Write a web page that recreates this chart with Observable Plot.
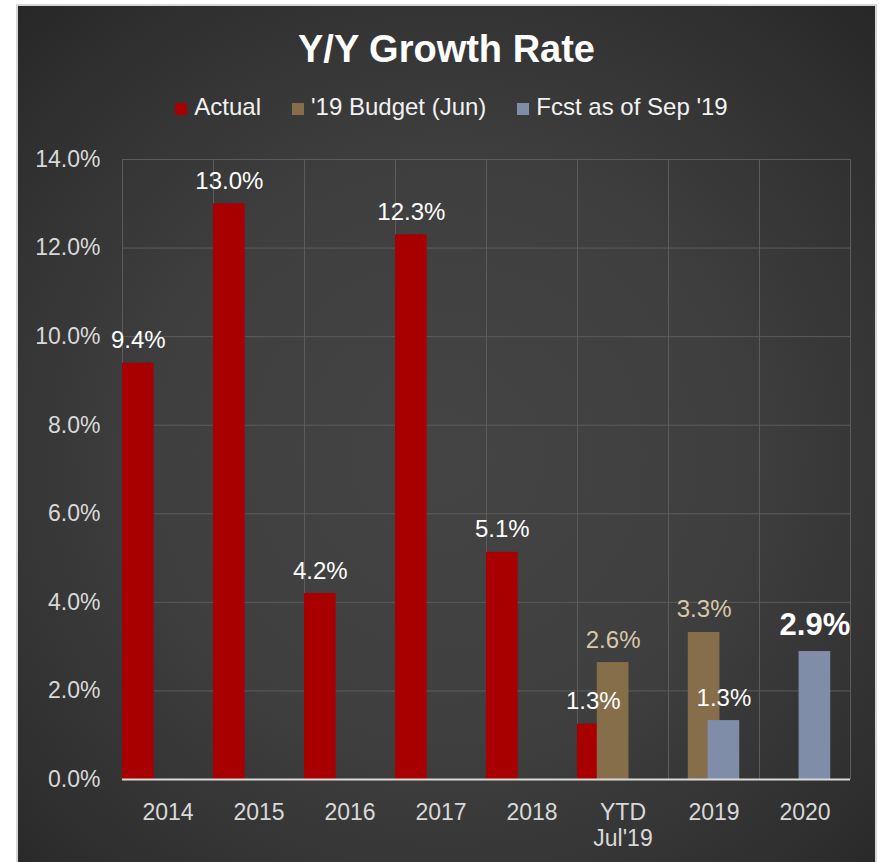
<!DOCTYPE html>
<html><head><meta charset="utf-8">
<script src="https://cdn.jsdelivr.net/npm/d3@7"></script>
<script src="https://cdn.jsdelivr.net/npm/@observablehq/plot@0.6"></script>
<style>
html,body{margin:0;padding:0;background:#fff;overflow:hidden;width:879px;height:862px}
#box{position:absolute;left:16px;top:4px;width:857px;height:900px;border:2px solid #d6d6d6;border-bottom:none;
background:radial-gradient(ellipse 75% 70% at 50% 50%, #444444 0%, #3f3f3f 45%, #303030 80%, #262626 100%);
font-family:"Liberation Sans",Arial,sans-serif;}
#title{position:absolute;left:0;width:857px;top:24px;text-align:center;font-size:38px;line-height:38px;font-weight:bold;color:#ffffff}
#legend{position:absolute;left:5px;width:857px;top:89px;display:flex;justify-content:center;gap:31px;font-size:24px;line-height:24px;color:#f2f2f2;white-space:nowrap}
.sw{display:inline-block;width:12px;height:12px;margin-right:7px;vertical-align:baseline}
#chart{position:absolute;left:0;top:128px}
</style></head>
<body>
<div id="box">
  <div id="title">Y/Y Growth Rate</div>
  <div id="legend"></div>
  <div id="chart"></div>
</div>
<script>
// ---- data ----
const categories = ["2014", "2015", "2016", "2017", "2018", "YTD\nJul'19", "2019", "2020"];
const seriesNames = ["Actual", "'19 Budget (Jun)", "Fcst as of Sep '19"];
const actual = [9.4, 13.0, 4.2, 12.3, 5.13, 1.25, null, null];
const budget = [null, null, null, null, null, 2.64, 3.32, null];
const fcst   = [null, null, null, null, null, null, 1.33, 2.89];
const yTicks = [0, 2, 4, 6, 8, 10, 12, 14];
const highlightCategory = "2020";

// ---- styles ----
const barColors = ["#a80000", "#866e4b", "#7f8da9"];
const labelColors = ["#ffffff", "#d8c8a8", "#ffffff"];

// clustered layout: 4 slots per category (last one empty), overlapping bars
const slots = 4, overlap = 0.375;
const bw = 1 / (1 + (slots - 1) * (1 - overlap));
const step = bw * (1 - overlap);

const seriesValues = [actual, budget, fcst];
const data = [];
seriesValues.forEach((vals, s) => vals.forEach((v, i) => {
  if (v != null) data.push({i, s, series: seriesNames[s], cat: categories[i], v,
    x1: i + s * step, x2: i + s * step + bw});
}));

// legend
const legend = document.getElementById("legend");
seriesNames.forEach((n, s) => {
  const it = document.createElement("span");
  const sw = document.createElement("span");
  sw.className = "sw";
  sw.style.background = barColors[s];
  it.appendChild(sw);
  it.appendChild(document.createTextNode(n));
  legend.appendChild(it);
});

const fmt = v => v.toFixed(1) + "%";
const plot = Plot.plot({
  width: 857,
  height: 728,
  marginLeft: 104,
  marginRight: 25,
  marginTop: 25,
  marginBottom: 83,
  style: {background: "transparent", color: "#d9d9d9", fontFamily: "'Liberation Sans', Arial, sans-serif", fontSize: "23px"},
  x: {type: "linear", domain: [0, categories.length], axis: null, label: null},
  y: {domain: [0, 14], axis: null, label: null},
  color: {domain: seriesNames, range: barColors},
  marks: [
    Plot.ruleY(yTicks.filter(d => d > 0), {stroke: "#5c5c5c", strokeWidth: 1}),
    Plot.ruleX(d3.range(categories.length + 1), {y1: 0, y2: 14, stroke: "#5c5c5c", strokeWidth: 1}),
    Plot.rectY(data, {x1: "x1", x2: "x2", y1: 0, y2: "v", fill: "series"}),
    Plot.ruleY([0], {stroke: "#d9d9d9", strokeWidth: 2}),
    Plot.axisY({ticks: yTicks, tickFormat: fmt, tickSize: 0, tickPadding: 22, fill: "#d9d9d9", fontSize: 23, label: null}),
    Plot.axisX({ticks: categories.map((c, i) => i + 0.5), tickFormat: d => categories[Math.floor(d)],
      tickSize: 0, tickPadding: 23, fill: "#d9d9d9", fontSize: 23, lineHeight: 1.1, label: null}),
    Plot.text(data.filter(d => d.cat !== highlightCategory), {
      x: d => (d.x1 + d.x2) / 2, y: "v", text: d => fmt(d.v), dy: -15, lineAnchor: "bottom",
      fill: d => labelColors[d.s], fontSize: 24}),
    Plot.text(data.filter(d => d.cat === highlightCategory), {
      x: d => (d.x1 + d.x2) / 2, y: "v", text: d => fmt(d.v), dy: -17, lineAnchor: "bottom",
      fill: d => labelColors[d.s], fontSize: 31, fontWeight: "bold"})
  ]
});
document.getElementById("chart").appendChild(plot);
</script>
</body></html>
